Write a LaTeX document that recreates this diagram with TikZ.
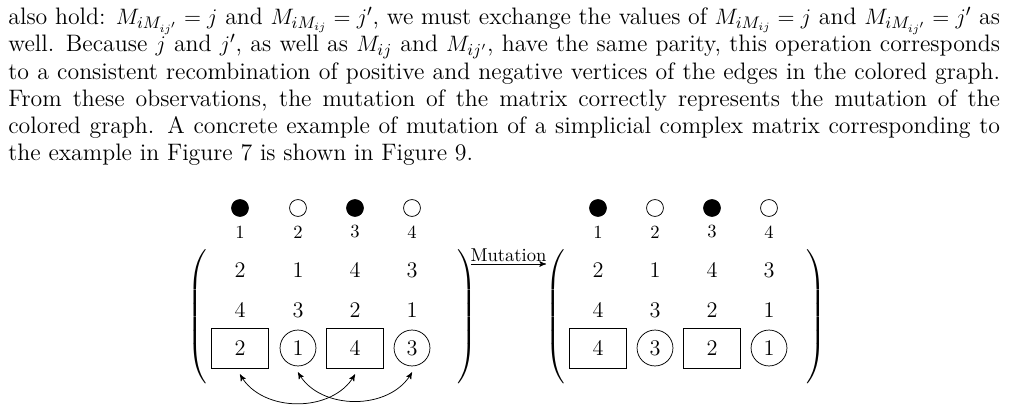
\documentclass[tikz,border=0pt,12pt]{standalone}
\usepackage{amsmath}
\usepackage{amssymb}
\usepackage{tikz}
\usetikzlibrary{arrows,positioning}

\begin{document}
\begin{tikzpicture}[
    x=0.01889cm, y=-0.01889cm,
    vtx/.style={circle, draw, minimum size=9.1pt, inner sep=0pt},
    sqbox/.style={rectangle, draw, minimum width=30.6pt, minimum height=21.5pt, inner sep=0pt},
    rdbox/.style={circle, draw, minimum size=19.3pt, inner sep=0pt},
    swap/.style={<->, >=stealth', thin},
    paren/.style={inner sep=0pt}
]
    \useasboundingbox (0,0) rectangle (1009,406);
    \node[anchor=north west, inner sep=0pt, text width=533pt, align=justify, font=\fontsize{12.8}{14.6}\selectfont] (para) at (8,7)
    {also hold: $M_{iM_{ij'}}=j$ and $M_{iM_{ij}}=j'$, we must exchange the values of $M_{iM_{ij}}=j$ and $M_{iM_{ij'}}=j'$ as well. Because $j$ and $j'$, as well as $M_{ij}$ and $M_{ij'}$, have the same parity, this operation corresponds to a consistent recombination of positive and negative vertices of the edges in the colored graph. From these observations, the mutation of the matrix correctly represents the mutation of the colored graph. A concrete example of mutation of a simplicial complex matrix corresponding to the example in Figure 7 is shown in Figure 9.};

    % left matrix
    \foreach \c/\k/\f in {1/240/black,2/298/white,3/355/black,4/412/white}{
        \node[vtx, fill=\f] (lv\c) at (\k,208) {};
        \node[font=\footnotesize] (ll\c) at (\k,232) {\c};
    }
    \foreach \c/\k/\a/\b in {1/240/2/4,2/298/1/3,3/355/4/2,4/412/3/1}{
        \node (la\c) at (\k,270) {\a};
        \node (lb\c) at (\k,310) {\b};
    }
    \node[sqbox] (lc1) at (240,348) {2};
    \node[rdbox] (lc2) at (298,348) {1};
    \node[sqbox] (lc3) at (355,348) {4};
    \node[rdbox] (lc4) at (412,348) {3};
    \node[paren] (lp) at (198,318) {$\left(\vrule height 34pt depth 34pt width 0pt\right.$};
    \node[paren] (rp) at (466,318) {$\left.\vrule height 34pt depth 34pt width 0pt\right)$};

    \draw[swap] ([yshift=-3.2pt]lc1.south) to[out=-60, in=-120] ([yshift=-3.2pt]lc3.south);
    \draw[swap] ([yshift=-3.2pt]lc2.south) to[out=-60, in=-120] ([yshift=-3.2pt]lc4.south);

    % mutation arrow
    \coordinate (ma) at (471,264);
    \coordinate (mb) at (546,264);
    \draw[->, >=stealth'] (ma) -- node[above, font=\footnotesize, inner sep=1pt] {Mutation} (mb);

    % right matrix
    \foreach \c/\k/\f in {1/598/black,2/655/white,3/712/black,4/769/white}{
        \node[vtx, fill=\f] (rv\c) at (\k,208) {};
        \node[font=\footnotesize] (rl\c) at (\k,232) {\c};
    }
    \foreach \c/\k/\a/\b in {1/598/2/4,2/655/1/3,3/712/4/2,4/769/3/1}{
        \node (ra\c) at (\k,270) {\a};
        \node (rb\c) at (\k,310) {\b};
    }
    \node[sqbox] (rc1) at (598,348) {4};
    \node[rdbox] (rc2) at (655,348) {3};
    \node[sqbox] (rc3) at (712,348) {2};
    \node[rdbox] (rc4) at (769,348) {1};
    \node[paren] (lq) at (556,318) {$\left(\vrule height 34pt depth 34pt width 0pt\right.$};
    \node[paren] (rq) at (815,318) {$\left.\vrule height 34pt depth 34pt width 0pt\right)$};
\end{tikzpicture}
\end{document}
